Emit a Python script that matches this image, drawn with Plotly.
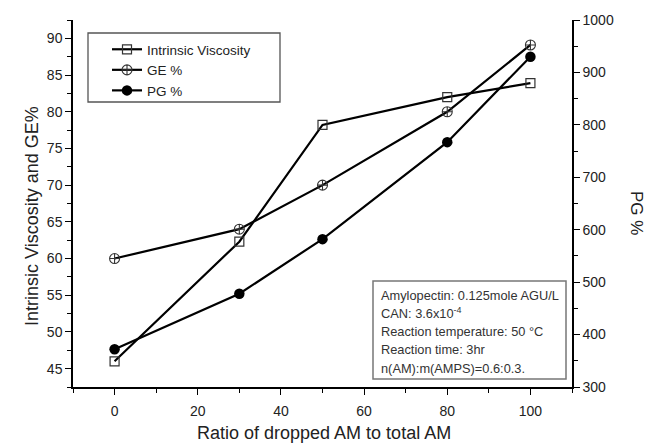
import plotly.graph_objects as go

# ---- data ----
ratio = [0, 30, 50, 80, 100]
intrinsic_viscosity = [46.0, 62.3, 78.2, 82.0, 83.9]
ge_percent = [60.0, 64.0, 70.0, 80.0, 89.1]
pg_percent = [372, 478, 582, 767, 930]

series_names = ["Intrinsic Viscosity", "GE %", "PG %"]
x_title = "Ratio of dropped AM to total AM"
y_left_title = "Intrinsic Viscosity and GE%"
y_right_title = "PG %"
note_lines = [
    "Amylopectin: 0.125mole AGU/L",
    "CAN: 3.6x10<sup>-4</sup>",
    "Reaction temperature: 50 °C",
    "Reaction time: 3hr",
    "n(AM):m(AMPS)=0.6:0.3.",
]

FONT = "Liberation Sans, Arial, sans-serif"
W, H = 648, 444
ML, MR, MT, MB = 73, 76, 20, 57
PW = W - ML - MR
PH = H - MT - MB


def px_x(p):
    return (p - ML) / PW


def px_y(p):
    return (H - MB - p) / PH


fig = go.Figure()
fig.add_trace(go.Scatter(
    x=ratio, y=intrinsic_viscosity, name=series_names[0], mode="lines+markers",
    line=dict(color="black", width=2.2),
    marker=dict(symbol="square-open", size=9, color="#333", line=dict(width=1.2)),
))
fig.add_trace(go.Scatter(
    x=ratio, y=ge_percent, name=series_names[1], mode="lines+markers",
    line=dict(color="black", width=2.2),
    marker=dict(symbol="circle-cross-open", size=10, color="#333", line=dict(width=1.1)),
))
fig.add_trace(go.Scatter(
    x=ratio, y=pg_percent, name=series_names[2], mode="lines+markers", yaxis="y2",
    line=dict(color="black", width=2.2),
    marker=dict(symbol="circle", size=10.5, color="black"),
))

axis_common = dict(showgrid=False, zeroline=False, showline=True, linecolor="black",
                   linewidth=1.5, tickcolor="black", tickwidth=1.3,
                   tickfont=dict(family=FONT, size=14, color="#222"))

fig.update_layout(
    width=W, height=H,
    margin=dict(l=ML, r=MR, t=MT, b=MB),
    paper_bgcolor="white", plot_bgcolor="white",
    font=dict(family=FONT, color="#222"),
    xaxis=dict(range=[-10, 110], tickvals=[0, 20, 40, 60, 80, 100], ticks="outside", ticklen=6,
               ticklabelstandoff=4,
               minor=dict(tickvals=[-10, 10, 30, 50, 70, 90, 110], ticks="outside", ticklen=4,
                          tickcolor="black", tickwidth=1.3),
               **axis_common),
    xaxis2=dict(range=[-10, 110], overlaying="x", side="top", anchor="y",
                tickvals=[-10, 0, 10, 20, 30, 40, 50, 60, 70, 80, 90, 100, 110],
                ticks="inside", ticklen=5, showticklabels=False, **axis_common),
    yaxis=dict(range=[42.5, 92.5], tickvals=[45, 50, 55, 60, 65, 70, 75, 80, 85, 90],
               ticks="outside", ticklen=6,
               minor=dict(dtick=2.5, ticks="outside", ticklen=4, tickcolor="black", tickwidth=1.3),
               **axis_common),
    yaxis2=dict(range=[300, 1000], overlaying="y", side="right", anchor="x",
                tickvals=[300, 400, 500, 600, 700, 800, 900, 1000], ticks="outside", ticklen=6,
                minor=dict(dtick=50, ticks="outside", ticklen=4, tickcolor="black", tickwidth=1.3),
                **axis_common),
    showlegend=True,
    legend=dict(x=px_x(107), y=px_y(34), xanchor="left", yanchor="top",
                bgcolor="rgba(0,0,0,0)", borderwidth=0,
                font=dict(family=FONT, size=13.5, color="#222"),
                tracegroupgap=0, itemwidth=30),
)

# legend frame
fig.add_shape(type="rect", xref="paper", yref="paper",
              x0=px_x(88), x1=px_x(280), y0=px_y(102), y1=px_y(33),
              line=dict(color="#555", width=1.3), fillcolor="rgba(0,0,0,0)")

# note box
fig.add_shape(type="rect", xref="paper", yref="paper",
              x0=px_x(373), x1=px_x(566), y0=px_y(379), y1=px_y(281),
              line=dict(color="#777", width=1.5), fillcolor="rgba(0,0,0,0)")
for i, line in enumerate(note_lines):
    fig.add_annotation(text=line, xref="paper", yref="paper", x=px_x(379), y=px_y(295 + i * 18.3),
                       xanchor="left", yanchor="middle", showarrow=False,
                       font=dict(family=FONT, size=12.8, color="#333"))

# axis titles
fig.add_annotation(text=x_title, xref="paper", yref="paper", x=px_x(324), y=px_y(433),
                   xanchor="center", yanchor="middle", showarrow=False,
                   font=dict(family=FONT, size=18, color="#222"))
fig.add_annotation(text=y_left_title, xref="paper", yref="paper", x=px_x(32), y=px_y(216),
                   xanchor="center", yanchor="middle", showarrow=False, textangle=-90,
                   font=dict(family=FONT, size=18, color="#222"))
fig.add_annotation(text=y_right_title, xref="paper", yref="paper", x=px_x(637), y=px_y(213),
                   xanchor="center", yanchor="middle", showarrow=False, textangle=90,
                   font=dict(family=FONT, size=17, color="#222"))

fig.write_html("out.html")
